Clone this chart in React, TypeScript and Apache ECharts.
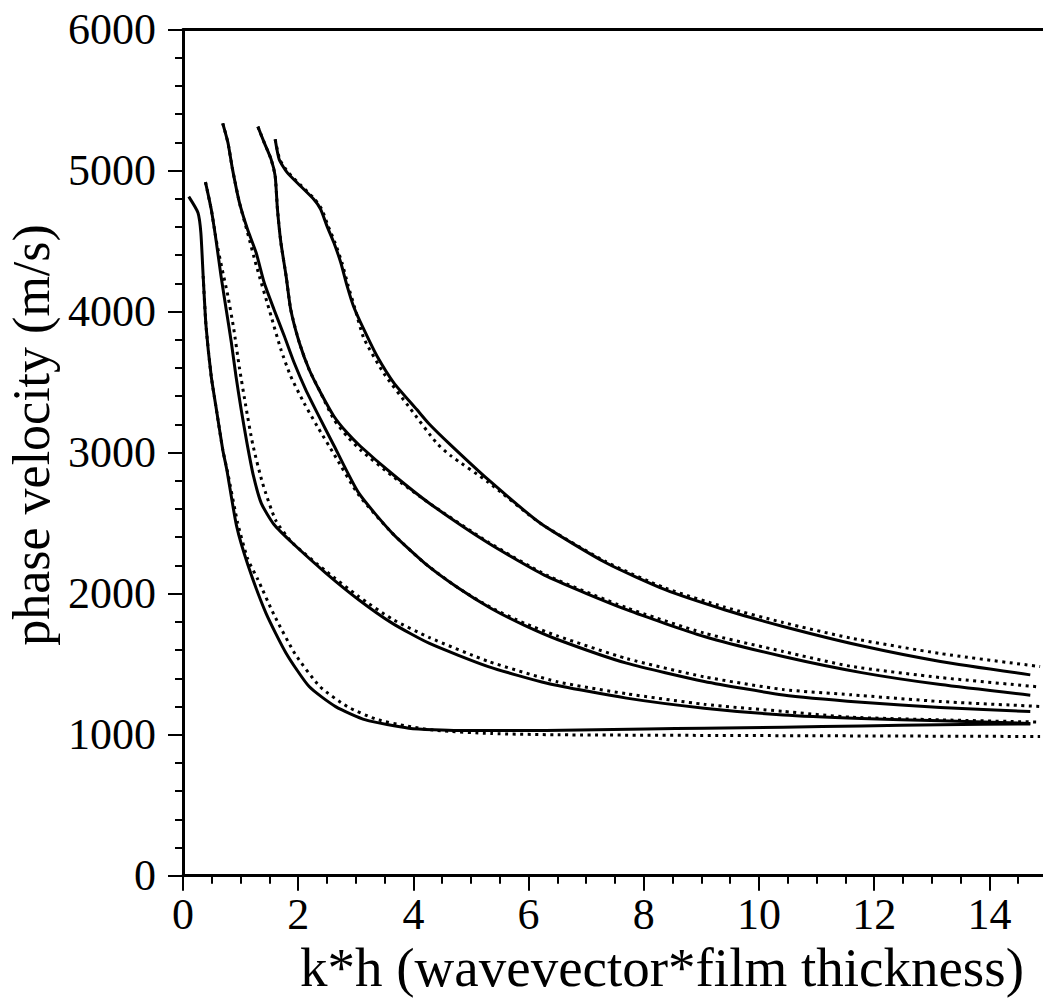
import React, { useEffect, useRef } from "react";
import * as echarts from "echarts";

// x: k*h, y: phase velocity (m/s)
const xTitle = "k*h (wavevector*film thickness)";
const yTitle = "phase velocity (m/s)";

const solid1 = [[0.10,4815],[0.26,4701],[0.31,4559],[0.35,4252],[0.40,3896],[0.49,3541],[0.58,3305],[0.69,3021],[0.76,2880],[0.93,2480],[1.13,2200],[1.44,1862],[1.79,1578],[2.19,1341],[2.65,1199],[3.17,1105],[3.92,1046],[4.78,1029],[6.3,1030],[8.05,1040],[9.05,1046],[10.42,1053],[11.78,1062],[13.15,1070],[14.71,1076]];
const dotted1 = [[0.35,4252],[0.40,3896],[0.49,3541],[0.58,3305],[0.69,3021],[0.78,2850],[0.95,2500],[1.12,2250],[1.30,2100],[1.58,1850],[1.95,1570],[2.38,1340],[2.85,1200],[3.35,1110],[3.9,1060],[4.4,1030],[5.35,1008],[6.51,999],[10.4,993],[14.88,987]];

const solid2 = [[0.39,4918],[0.49,4725],[0.58,4488],[0.66,4252],[0.75,4015],[0.84,3779],[0.92,3541],[1.01,3305],[1.11,3069],[1.22,2840],[1.36,2640],[1.58,2490],[1.90,2359],[2.48,2146],[3.05,1957],[3.63,1791],[4.27,1649],[5.3,1483],[6.32,1365],[7.7,1259],[9.05,1188],[10.42,1140],[11.78,1115],[13.15,1098],[14.71,1080]];
const dotted2 = [[0.39,4918],[0.49,4725],[0.58,4500],[0.68,4300],[0.78,4110],[0.88,3880],[0.98,3600],[1.09,3330],[1.21,3060],[1.38,2785],[1.61,2520],[1.90,2360],[2.48,2160],[3.05,1980],[3.63,1820],[4.27,1690],[5.3,1520],[6.5,1375],[7.7,1290],[9.05,1215],[10.42,1165],[11.59,1124],[13.15,1105],[14.88,1089]];

const solid3 = [[0.69,5335],[0.78,5198],[0.86,5008],[0.98,4772],[1.12,4583],[1.27,4417],[1.41,4204],[1.58,4015],[1.76,3825],[1.93,3637],[2.13,3447],[2.33,3282],[2.62,3050],[3.05,2714],[3.63,2430],[4.2,2215],[4.78,2040],[5.35,1895],[5.93,1775],[6.5,1675],[7.7,1507],[9.05,1377],[10.42,1282],[11.78,1230],[13.15,1192],[14.71,1164]];
const dotted3 = [[0.69,5335],[0.78,5198],[0.86,5008],[0.98,4772],[1.12,4560],[1.27,4330],[1.53,3967],[1.70,3731],[1.87,3541],[2.10,3353],[2.33,3187],[2.62,2990],[3.05,2700],[3.63,2430],[4.2,2215],[4.78,2040],[5.35,1900],[5.93,1790],[6.5,1700],[7.7,1540],[9.05,1410],[10.42,1320],[11.59,1283],[13.15,1235],[14.88,1200]];

const solid4 = [[1.30,5311],[1.41,5198],[1.53,5079],[1.60,4961],[1.64,4725],[1.70,4488],[1.79,4252],[1.87,4015],[2.02,3779],[2.19,3589],[2.39,3424],[2.62,3258],[2.85,3140],[3.08,3045],[3.63,2850],[4.27,2643],[5.3,2359],[6.32,2122],[7.7,1886],[9.05,1696],[10.42,1554],[11.78,1440],[13.15,1355],[14.71,1280]];
const dotted4 = [[1.30,5311],[1.41,5198],[1.53,5079],[1.60,4961],[1.64,4725],[1.70,4488],[1.79,4252],[1.87,4015],[2.02,3779],[2.19,3589],[2.39,3424],[2.62,3235],[2.85,3115],[3.08,3020],[3.63,2835],[4.27,2643],[5.3,2365],[6.32,2130],[7.7,1900],[9.05,1720],[10.42,1590],[11.59,1485],[13.15,1405],[14.88,1338]];

const solid5 = [[1.60,5221],[1.67,5079],[1.81,4985],[2.04,4890],[2.27,4796],[2.39,4725],[2.50,4606],[2.62,4488],[2.74,4346],[2.85,4180],[2.96,4038],[3.14,3873],[3.37,3683],[3.66,3495],[4.06,3305],[4.27,3205],[4.64,3057],[5.3,2808],[6.2,2501],[7.35,2217],[8.37,2028],[9.4,1886],[10.42,1767],[11.78,1630],[13.15,1519],[14.71,1424]];
const dotted5 = [[1.60,5221],[1.68,5079],[1.83,4985],[2.06,4890],[2.29,4796],[2.41,4725],[2.52,4606],[2.64,4488],[2.76,4346],[2.87,4180],[2.98,4030],[3.14,3810],[3.49,3560],[3.95,3310],[4.40,3069],[4.64,2980],[5.3,2790],[6.2,2500],[7.35,2225],[8.37,2040],[9.4,1905],[10.42,1795],[11.59,1685],[13.15,1575],[14.88,1483]];

const solidSeries = [solid1, solid2, solid3, solid4, solid5];
const dottedSeries = [dotted1, dotted2, dotted3, dotted4, dotted5];

export default function App() {
  const ref = useRef<HTMLDivElement>(null);
  useEffect(() => {
    const chart = echarts.init(ref.current!, null, { renderer: "svg" });
    const font = "Liberation Serif";
    const mk = (name: string, data: number[][], dotted: boolean) => ({
      type: "line",
      name,
      data,
      showSymbol: false,
      symbol: "none",
      smooth: 0.2,
      silent: true,
      z: dotted ? 2 : 3,
      lineStyle: dotted
        ? { color: "#000", width: 3, type: [3, 4.5], cap: "butt" }
        : { color: "#000", width: 3, type: "solid", join: "round" },
    });
    const axisCommon = {
      axisLine: { show: true, onZero: false, lineStyle: { color: "#000", width: 3 } },
      splitLine: { show: false },
    };
    chart.setOption({
      animation: false,
      backgroundColor: "#fff",
      grid: { left: 183, top: 29.5, width: 864, bottom: 122.3 },
      xAxis: [
        {
          type: "value",
          min: 0,
          max: 15,
          interval: 2,
          position: "bottom",
          ...axisCommon,
          axisTick: { show: true, inside: false, length: 15, lineStyle: { color: "#000", width: 2 } },
          minorTick: { show: true, splitNumber: 4, length: 8, lineStyle: { color: "#000", width: 2 } },
          axisLabel: {
            show: true, margin: 23, color: "#000", fontFamily: font, fontSize: 44, lineHeight: 32,
            showMaxLabel: false, formatter: (v: number) => String(v),
          },
        },
        {
          type: "value",
          min: 0,
          max: 15,
          position: "top",
          ...axisCommon,
          axisTick: { show: false },
          axisLabel: { show: false },
        },
      ],
      yAxis: [
        {
          type: "value",
          min: 0,
          max: 6000,
          interval: 1000,
          position: "left",
          ...axisCommon,
          axisTick: { show: true, inside: false, length: 15, lineStyle: { color: "#000", width: 2 } },
          minorTick: { show: true, splitNumber: 5, length: 8, lineStyle: { color: "#000", width: 2 } },
          axisLabel: {
            show: true, margin: 27, color: "#000", fontFamily: font, fontSize: 44, lineHeight: 34,
            formatter: (v: number) => String(v),
          },
        },
      ],
      graphic: [
        {
          type: "text",
          x: 662,
          y: 967,
          style: { text: xTitle, fontFamily: font, fontSize: 55, lineHeight: 38, fill: "#000", align: "center", verticalAlign: "middle" },
        },
        {
          type: "text",
          x: 31,
          y: 435,
          rotation: Math.PI / 2,
          style: { text: yTitle, fontFamily: font, fontSize: 52, lineHeight: 40, fill: "#000", align: "center", verticalAlign: "middle" },
        },
      ],
      series: [
        ...dottedSeries.map((d, i) => mk("dotted " + (i + 1), d, true)),
        ...solidSeries.map((d, i) => mk("solid " + (i + 1), d, false)),
      ],
    });
    return () => chart.dispose();
  }, []);
  return (
    <div style={{ position: "fixed", left: 0, top: 0, width: 1043, height: 998, overflow: "hidden", background: "#fff" }}>
      <div ref={ref} style={{ width: 1060, height: 998 }} />
    </div>
  );
}
